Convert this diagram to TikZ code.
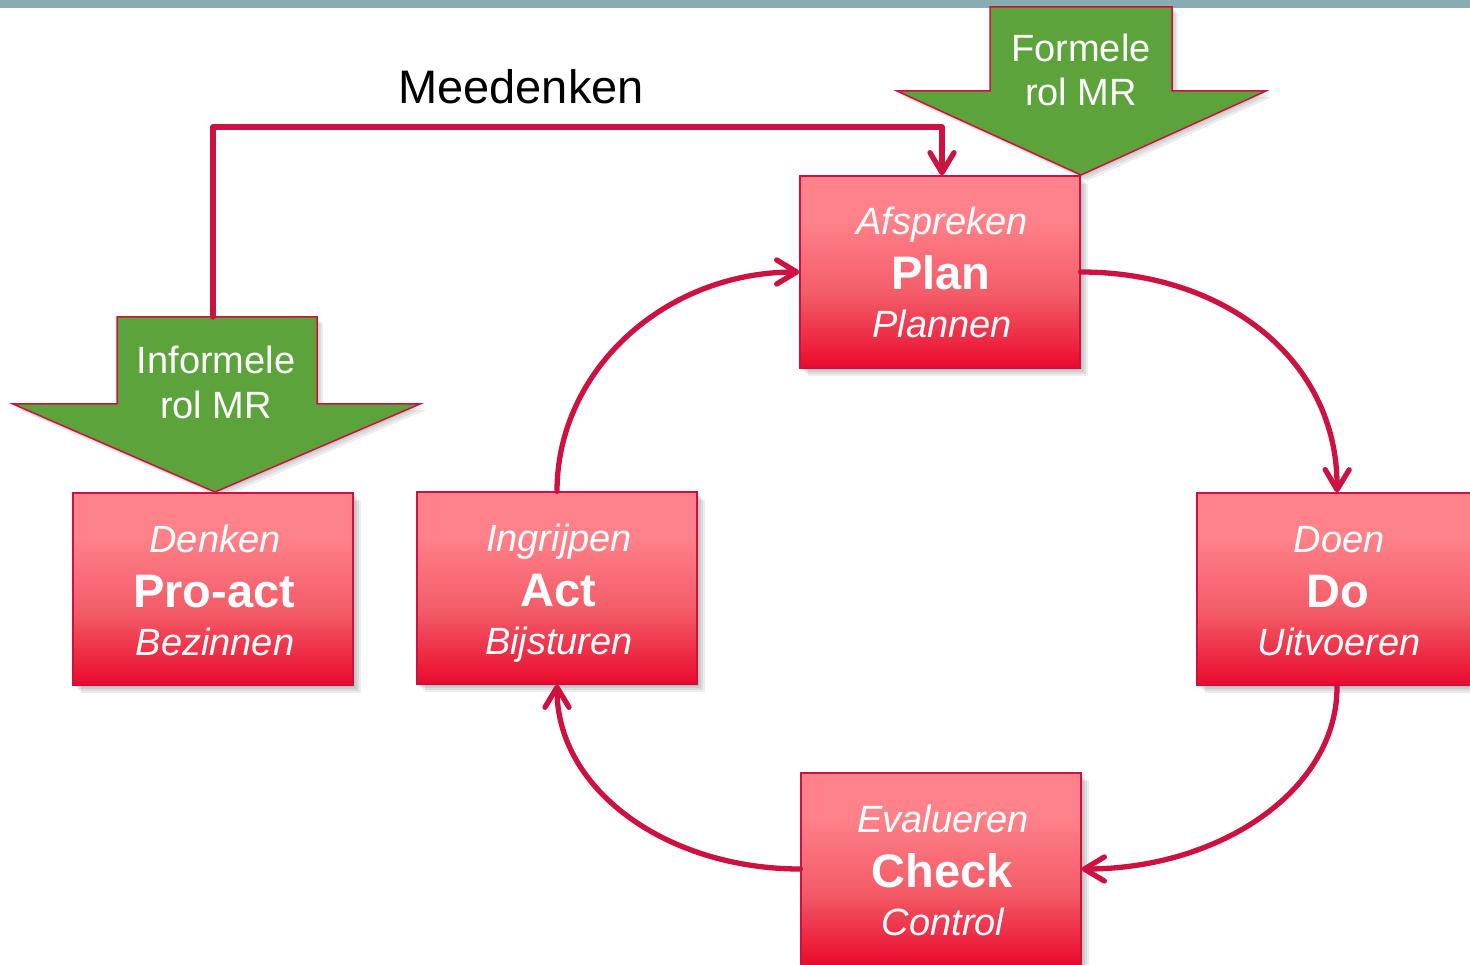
\documentclass[tikz,border=0pt]{standalone}
\usepackage{fontspec}
\setmainfont{Liberation Sans}
\usetikzlibrary{arrows.meta}
\definecolor{redT}{HTML}{FF828A}
\definecolor{redM}{HTML}{F35B67}
\definecolor{redB}{HTML}{EA0A2C}
\definecolor{crim}{HTML}{CD1140}
\definecolor{grn}{HTML}{5CA33B}
\definecolor{band}{HTML}{87ADB3}
\pgfdeclareverticalshading{boxshade}{100bp}{color(0bp)=(redB); color(25bp)=(redB); color(44bp)=(redM); color(64bp)=(redT); color(75bp)=(redT); color(100bp)=(redT)}
\tikzset{
  pbox/.style={rectangle, minimum width=280pt, minimum height=192pt, inner sep=0pt,
    shading=boxshade, draw=crim, line width=1.3pt},
  itxt/.style={white, font=\fontsize{38}{40}\selectfont\itshape, inner sep=0pt, anchor=base},
  btxt/.style={white, font=\fontsize{47}{50}\selectfont\bfseries, inner sep=0pt, anchor=base},
  gtxt/.style={white, font=\fontsize{38}{40}\selectfont, inner sep=0pt, anchor=base},
  garrow/.style={fill=grn, draw=crim, line width=1.5pt, line join=miter},
  conn/.style={draw=crim, line width=5.3pt, line cap=round, line join=round,
    -{Straight Barb[length=20pt,width=24pt,round]}},
  shadowfill/.style={fill=black, opacity=0.07}
}
\newcommand\pdcabox[6]{%
  \foreach \s in {2,4,6,8}{\fill[shadowfill] (#2-140+\s,#3-96+\s) rectangle (#2+140+\s,#3+96+\s);}
  \node[pbox] (#1) at (#2,#3) {};
  \node[itxt] (#1-a) at ([xshift=2pt,yshift=37pt]#1.center) {#4};
  \node[btxt] (#1-b) at ([xshift=1pt,yshift=-18pt]#1.center) {#5};
  \node[itxt] (#1-c) at ([xshift=2pt,yshift=-66pt]#1.center) {#6};
}
\begin{document}
\begin{tikzpicture}[x=1pt,y=-1pt]
\useasboundingbox (0,0) rectangle (1470,965);
\clip (0,0) rectangle (1470,965);
\fill[white] (0,0) rectangle (1470,965);
\fill[band] (0,0) rectangle (1470,8);

% green arrows with shadows
\foreach \s in {2,4,6}{
  \fill[shadowfill] (990+\s,7+\s) -- (1172+\s,7+\s) -- (1172+\s,91+\s) -- (1266+\s,91+\s) -- (1081+\s,175+\s) -- (897+\s,91+\s) -- (990+\s,91+\s) -- cycle;
  \fill[shadowfill] (117+\s,317+\s) -- (317+\s,317+\s) -- (317+\s,404+\s) -- (420+\s,404+\s) -- (215+\s,492+\s) -- (13+\s,404+\s) -- (117+\s,404+\s) -- cycle;
}
\draw[garrow] (990,7) -- (1172,7) -- (1172,91) -- (1266,91) -- (1081,175) -- (897,91) -- (990,91) -- cycle;
\node[gtxt] (form1) at (1081,62) {Formele};
\node[gtxt] (form2) at (1081,106) {rol MR};
\draw[garrow] (117,317) -- (317,317) -- (317,404) -- (420,404) -- (215,492) -- (13,404) -- (117,404) -- cycle;
\node[gtxt] (inf1) at (216,374) {Informele};
\node[gtxt] (inf2) at (216,418) {rol MR};
\coordinate (inftop) at (213,317);

% boxes
\pdcabox{plan}{940}{272}{Afspreken}{Plan}{Plannen}
\pdcabox{pro}{213}{589}{Denken}{Pro-act}{Bezinnen}
\pdcabox{act}{557}{588}{Ingrijpen}{Act}{Bijsturen}
\pdcabox{do}{1337}{589}{Doen}{Do}{Uitvoeren}
\pdcabox{check}{941}{869}{Evalueren}{Check}{Control}

% Meedenken
\node[font=\fontsize{47}{50}\selectfont, anchor=base, inner sep=0pt] (mee) at (521,104) {Meedenken};
\draw[conn] (inftop) -- (213,127) -- (942,127) -- ([xshift=2pt]plan.north);

% cycle
\draw[conn] (plan.east) .. controls (1225,272) and (1338,360) .. (do.north);
\draw[conn] (do.south) .. controls (1338,790) and (1220,869) .. (check.east);
\draw[conn] (check.west) .. controls (667,869) and (557,790) .. (act.south);
\draw[conn] (act.north) .. controls (557,370) and (665,272) .. (plan.west);
\end{tikzpicture}
\end{document}
